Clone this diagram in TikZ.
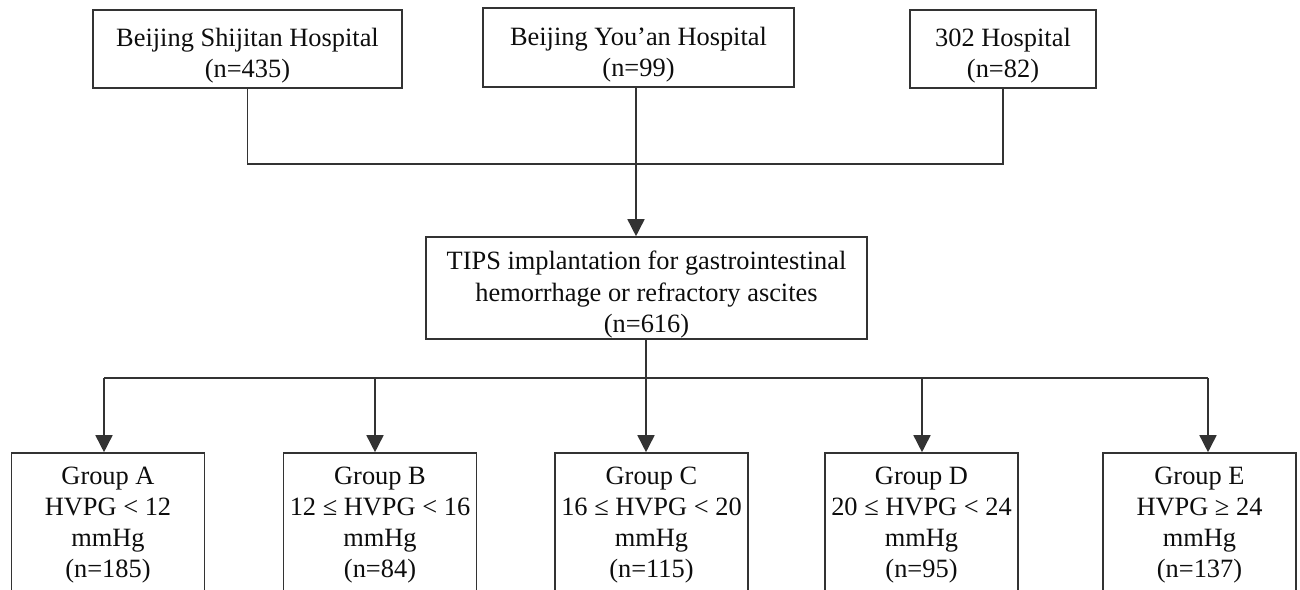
\documentclass[tikz,border=0pt]{standalone}
\usepackage{fontspec}
\setmainfont{Liberation Serif}
\usetikzlibrary{arrows.meta}
% invisible strut that lowers the text block a little
\newcommand{\lowstrut}{\rule{0pt}{16pt}}

\begin{document}
\begin{tikzpicture}[x=0.5pt, y=-0.5pt]
    % Page frame, lower boxes are cut at the bottom edge
    \useasboundingbox (0,0) rectangle (1300,589);
    \clip (0,0) rectangle (1300,589);

    % Styles
    \tikzset{
        c_box/.style={draw=black!80, line width=0.8pt, align=center, inner sep=0pt,
            text=black!95, font=\fontsize{13.2pt}{15.6pt}\selectfont},
        c_group/.style={c_box, minimum width=96.5pt, minimum height=72pt},
        c_link/.style={draw=black!80, line width=0.8pt},
        c_arrow/.style={c_link, -{Triangle[width=8.5pt, length=8.5pt]}}
    }

    % Three hospitals
    \node[c_box, minimum width=154.5pt, minimum height=39pt] (shijitan) at (247.5,49)
        {\lowstrut Beijing Shijitan Hospital\\(n=435)};
    \node[c_box, minimum width=155.5pt, minimum height=39.5pt] (youan) at (638.5,47.5)
        {\lowstrut Beijing You’an Hospital\\(n=99)};
    \node[c_box, minimum width=93pt, minimum height=39pt] (h302) at (1003,49)
        {\lowstrut 302 Hospital\\(n=82)};

    % TIPS cohort
    \node[c_box, minimum width=220.5pt, minimum height=51pt] (tips) at (646.5,288)
        {\lowstrut TIPS implantation for gastrointestinal\\hemorrhage or refractory ascites\\(n=616)};

    % HVPG groups
    \foreach \g/\x/\cond/\n in {A/108/HVPG < 12/185, B/380/12 ≤ HVPG < 16/84,
        C/651.5/16 ≤ HVPG < 20/115, D/921.5/20 ≤ HVPG < 24/95, E/1199.5/HVPG ≥ 24/137} {
        \node[c_group] (grp\g) at (\x,525) {Group \g\\\cond\\mmHg\\(n=\n)};
    }

    % Merge lines
    \coordinate (merge) at (636,164);
    \draw[c_link] (shijitan.south) |- (merge) -| (h302.south);
    \draw[c_arrow] (merge |- youan.south) -- (merge |- tips.north);

    % Split lines
    \coordinate (split) at (646,378);
    \draw[c_link] (split |- tips.south) -- (split);
    \draw[c_link] ([xshift=-2pt]grpA.north |- split) -- ([xshift=4.25pt]grpE.north |- split);
    \foreach \g/\dx in {A/-2pt, B/-2.5pt, C/-2.75pt, D/0.25pt, E/4.25pt} {
        \draw[c_arrow] ([xshift=\dx]grp\g.north |- split) -- ([xshift=\dx]grp\g.north);
    }
\end{tikzpicture}
\end{document}
